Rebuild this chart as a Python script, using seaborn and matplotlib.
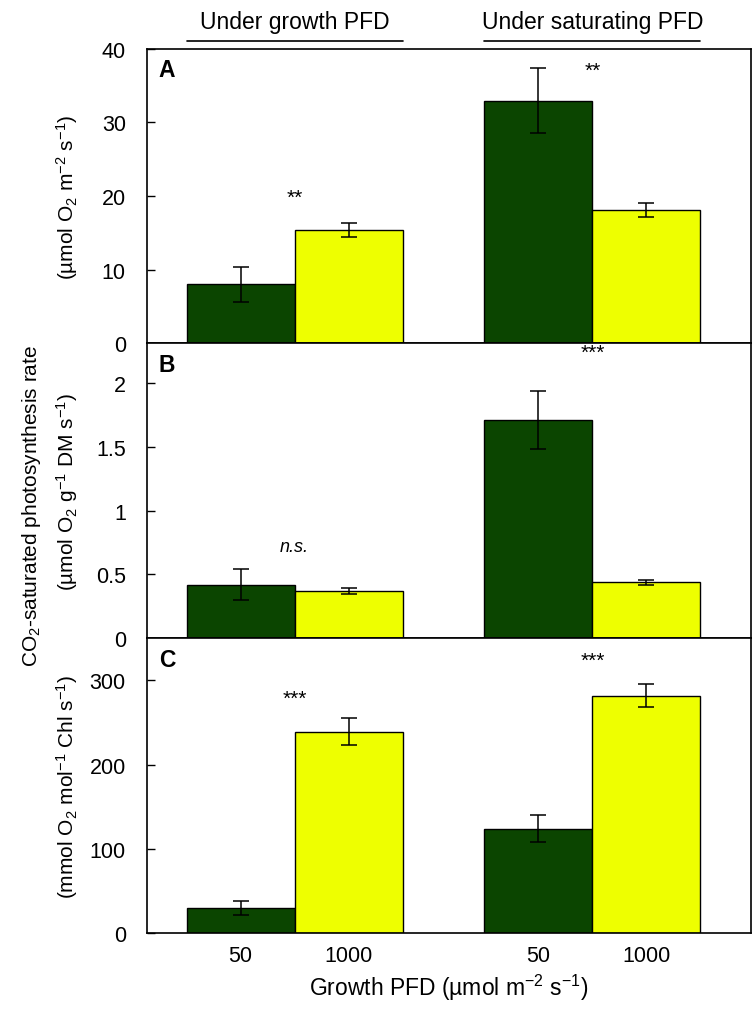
import pandas as pd
import seaborn as sns
import matplotlib.pyplot as plt
from matplotlib.container import BarContainer
from matplotlib.ticker import FormatStrFormatter
import matplotlib.transforms as mtransforms

conditions = ["Under growth PFD", "Under saturating PFD"]
pfd_levels = ["50", "1000"]

# means per panel, order: growth-50, growth-1000, sat-50, sat-1000
rate_area = [8.0, 15.4, 32.9, 18.1]
err_area = [2.4, 0.9, 4.4, 1.0]
rate_mass = [0.42, 0.37, 1.71, 0.44]
err_mass = [0.12, 0.02, 0.23, 0.02]
rate_chl = [30, 239, 124, 282]
err_chl = [8, 16, 16, 14]

sig_area = ["**", "**"]
sig_mass = ["n.s.", "***"]
sig_chl = ["***", "***"]
sig_y_area = [19.8, 37.0]
sig_y_mass = [0.72, 2.24]
sig_y_chl = [279, 324]

sns.set_style("ticks")
plt.rcParams["font.family"] = ["Liberation Sans", "DejaVu Sans"]
plt.rcParams["mathtext.fontset"] = "custom"
plt.rcParams["mathtext.rm"] = "Liberation Sans"
plt.rcParams["mathtext.it"] = "Liberation Sans:italic"
plt.rcParams["mathtext.bf"] = "Liberation Sans:bold"
for key in ["text.color", "axes.labelcolor", "xtick.color", "ytick.color"]:
    plt.rcParams[key] = "black"

green = "#0b4500"
yellow = "#eeff00"

panels = [
    ("A", rate_area, err_area, sig_area, sig_y_area, (0, 40), [0, 10, 20, 30, 40],
     "(µmol O$_\\mathregular{2}$ m$^\\mathregular{-2}$ s$^\\mathregular{-1}$)"),
    ("B", rate_mass, err_mass, sig_mass, sig_y_mass, (0, 2.31), [0, 0.5, 1, 1.5, 2],
     "(µmol O$_\\mathregular{2}$ g$^\\mathregular{-1}$ DM s$^\\mathregular{-1}$)"),
    ("C", rate_chl, err_chl, sig_chl, sig_y_chl, (0, 350), [0, 100, 200, 300],
     "(mmol O$_\\mathregular{2}$ mol$^\\mathregular{-1}$ Chl s$^\\mathregular{-1}$)"),
]

fig, axes = plt.subplots(3, 1, figsize=(7.56, 10.12), dpi=100, sharex=True)
fig.subplots_adjust(left=0.194, right=0.993, top=0.951, bottom=0.077, hspace=0)

for ax, (letter, vals, errs, sigs, sig_y, ylim, yticks, ylab) in zip(axes, panels):
    df = pd.DataFrame({
        "condition": [conditions[0], conditions[0], conditions[1], conditions[1]],
        "pfd": [pfd_levels[0], pfd_levels[1], pfd_levels[0], pfd_levels[1]],
        "value": vals,
        "err": errs,
    })
    sns.barplot(data=df, x="condition", y="value", hue="pfd", order=conditions,
                hue_order=pfd_levels, palette=[green, yellow], saturation=1,
                width=0.725, edgecolor="black", linewidth=1, errorbar=None,
                legend=False, ax=ax)
    bars = [c for c in ax.containers if isinstance(c, BarContainer)]
    # error bars at the centres of the drawn bars
    for level, cont in zip(pfd_levels, bars):
        sub = df[df["pfd"] == level].set_index("condition").loc[conditions]
        xs = [p.get_x() + p.get_width() / 2 for p in cont.patches]
        ax.errorbar(xs, sub["value"], yerr=sub["err"], fmt="none", ecolor="black",
                    elinewidth=1.1, capsize=6, capthick=1.1)
    for i, (s, y) in enumerate(zip(sigs, sig_y)):
        if s == "n.s.":
            ax.text(i, y, s, ha="center", va="center", fontsize=13, style="italic")
        else:
            ax.text(i, y, s, ha="center", va="center", fontsize=15)
    ax.text(0.02, 0.968, letter, transform=ax.transAxes, ha="left", va="top",
            fontsize=16.5, fontweight="bold")
    ax.set_ylim(*ylim)
    ax.set_yticks(yticks)
    ax.yaxis.set_major_formatter(FormatStrFormatter("%g"))
    ax.set_xlim(-0.497, 1.532)
    ax.set_ylabel(ylab, fontsize=15)
    ax.yaxis.set_label_coords(-0.11, 0.5)
    ax.set_xlabel("")
    ax.tick_params(axis="y", direction="in", length=6, width=1, labelsize=15.5, pad=15)
    ax.tick_params(axis="x", length=0, labelsize=15.5, pad=8.5)
    for sp in ax.spines.values():
        sp.set_visible(True)
        sp.set_linewidth(1.2)
        sp.set_color("black")

# x tick labels under each bar
bottom = axes[-1]
centers = sorted(p.get_x() + p.get_width() / 2 for cont in bottom.containers
                 if isinstance(cont, BarContainer) for p in cont.patches)
bottom.set_xticks(centers)
bottom.set_xticklabels([pfd_levels[0], pfd_levels[1], pfd_levels[0], pfd_levels[1]])
bottom.set_xlabel("Growth PFD (µmol m$^\\mathregular{-2}$ s$^\\mathregular{-1}$)", fontsize=16.5,
                  labelpad=4)

# group headers with underline above panel A
top = axes[0]
trans = mtransforms.blended_transform_factory(top.transData, top.transAxes)
for i, name in enumerate(conditions):
    top.plot([i - 0.3625, i + 0.3625], [1.027, 1.027], color="black", lw=1.2,
             transform=trans, clip_on=False)
    top.text(i, 1.092, name, transform=trans, ha="center", va="center", fontsize=16.5)

fig.text(0.042, 0.5, "CO$_\\mathregular{2}$-saturated photosynthesis rate", rotation=90,
         ha="center", va="center", fontsize=15)

plt.savefig("out.png", dpi=100)
